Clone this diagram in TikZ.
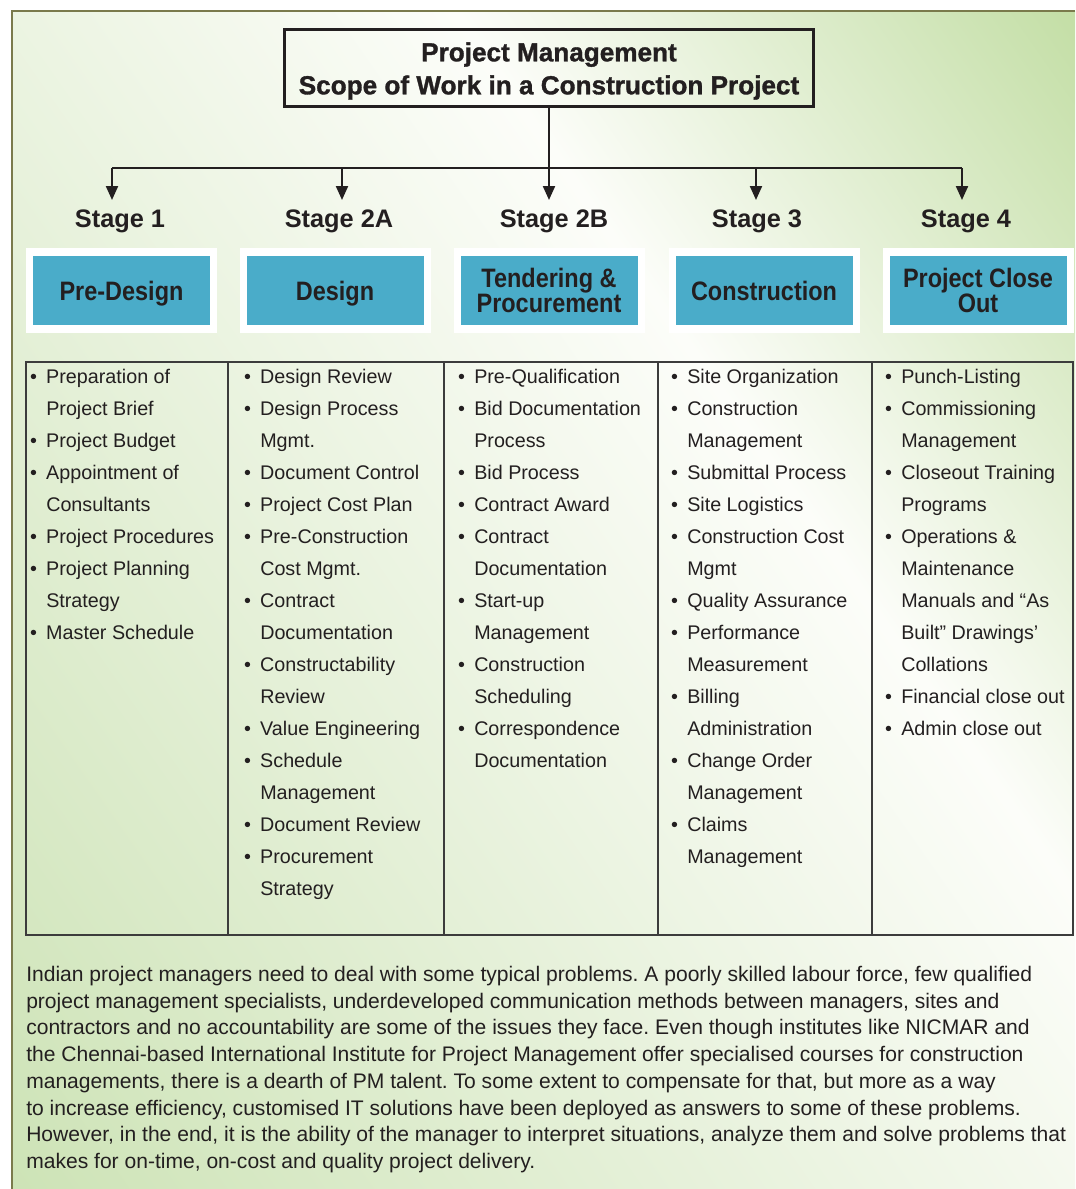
\documentclass[tikz,border=0pt]{standalone}
\usepackage{fontspec}
\setmainfont{Liberation Sans}
\newfontfamily\heavyfont{Liberation Sans}[FakeBold=1.2]
\newfontfamily\boxfont{Liberation Sans}[FakeStretch=0.88]
\usetikzlibrary{arrows.meta}

\definecolor{ink}{HTML}{231F20}
\definecolor{olive}{HTML}{7A7A4C}
\definecolor{stageblue}{RGB}{74,172,201}
\definecolor{rulegray}{HTML}{3C3C3C}
\definecolor{leafA}{RGB}{205,227,182}
\definecolor{leafB}{RGB}{195,222,165}
\definecolor{paper}{RGB}{252,253,249}

% diagonal wash behind everything
\pgfdeclarehorizontalshading{leafwash}{100bp}{color(0bp)=(leafA); color(15bp)=(leafA);
  color(62bp)=(paper); color(85bp)=(leafB); color(100bp)=(leafB)}

\newcommand\bul{\llap{\textbullet\hspace{7pt}}}

\tikzset{
    every node/.style={text=ink, inner sep=0pt},
    heading/.style={draw=ink, line width=2.2pt, minimum width=396.75pt,
        minimum height=57.75pt, align=center,
        font=\heavyfont\bfseries\fontsize{19.6}{24.75}\selectfont},
    stagename/.style={anchor=base, font=\bfseries\fontsize{19}{23}\selectfont},
    mount/.style={fill=white, minimum width=143.25pt, minimum height=63.75pt},
    stagebox/.style={fill=stageblue, minimum width=132.75pt, minimum height=51.75pt,
        align=center, font=\boxfont\bfseries\fontsize{20}{18.75}\selectfont},
    oneline/.style={stagebox, text depth=0pt},
    listline/.style={anchor=base west, font=\fontsize{14.8}{18}\selectfont},
    para/.style={anchor=base west, font=\frenchspacing\fontsize{15.8}{20}\selectfont},
    link/.style={draw=ink, line width=1.6pt},
    arr/.style={link, -{Triangle[width=9pt,length=10.5pt]}},
    tablerule/.style={draw=rulegray, line width=1.1pt}
}

\begin{document}
\begin{tikzpicture}[x=0.75pt, y=-0.75pt]
	\useasboundingbox (0,0) rectangle (1075,1189);
	\shade[shading=leafwash, shading angle=35] (12,11) rectangle (1075,1189);
	\draw[olive, line width=2.2pt] (12,1189) -- (12,11) -- (1075,11);

	% title and the branching arrows
	\node[heading] (title) at (549,68)
		{\rule{0pt}{18.8pt}Project Management\\Scope of Work in a Construction Project};
	\coordinate (bar1) at (112,168);
	\coordinate (bar2) at (342,168);
	\coordinate (bar3) at (549,168);
	\coordinate (bar4) at (756,168);
	\coordinate (bar5) at (962,168);
	\draw[link] (title.south) -- (bar3);
	\draw[link] (bar1) -- (bar5);
	\foreach \i in {1,...,5}
		\draw[arr] (bar\i) -- ++(0,32);

	% stages
	\node[stagename] (s1) at (120,227) {Stage 1};
	\node[stagename] (s2) at (339,227) {Stage 2A};
	\node[stagename] (s3) at (554,227) {Stage 2B};
	\node[stagename] (s4) at (757,227) {Stage 3};
	\node[stagename] (s5) at (966,227) {Stage 4};

	\node[mount] (m1) at (121.5,290.5) {};
	\node[mount] (m2) at (335,290.5) {};
	\node[mount] (m3) at (549,290.5) {};
	\node[mount] (m4) at (764,290.5) {};
	\node[mount] (m5) at (978,290.5) {};
	\node[oneline] (b1) at (m1) {Pre-Design};
	\node[oneline] (b2) at (m2) {Design};
	\node[stagebox] (b3) at (m3) {Tendering \&\\Procurement};
	\node[oneline] (b4) at (m4) {Construction};
	\node[stagebox] (b5) at (m5) {Project Close\\Out};

	% table of tasks
	\draw[tablerule] (26,362) rectangle (1073,935);
	\foreach \x in {228,444,658,872}
		\draw[tablerule] (\x,362) -- (\x,935);

	\foreach \entry [count=\i from 0] in {{\bul Preparation of},{Project Brief},
		{\bul Project Budget},{\bul Appointment of},{Consultants},{\bul Project Procedures},
		{\bul Project Planning},{Strategy},{\bul Master Schedule}}
		\node[listline] (c1-\i) at (46,{383+32.06*\i}) {\entry};
	\foreach \entry [count=\i from 0] in {{\bul Design Review},{\bul Design Process},{Mgmt.},
		{\bul Document Control},{\bul Project Cost Plan},{\bul Pre-Construction},{Cost Mgmt.},
		{\bul Contract},{Documentation},{\bul Constructability},{Review},{\bul Value Engineering},
		{\bul Schedule},{Management},{\bul Document Review},{\bul Procurement},{Strategy}}
		\node[listline] (c2-\i) at (260,{383+32.06*\i}) {\entry};
	\foreach \entry [count=\i from 0] in {{\bul Pre-Qualification},{\bul Bid Documentation},
		{Process},{\bul Bid Process},{\bul Contract Award},{\bul Contract},{Documentation},
		{\bul Start-up},{Management},{\bul Construction},{Scheduling},{\bul Correspondence},
		{Documentation}}
		\node[listline] (c3-\i) at (474,{383+32.06*\i}) {\entry};
	\foreach \entry [count=\i from 0] in {{\bul Site Organization},{\bul Construction},
		{Management},{\bul Submittal Process},{\bul Site Logistics},{\bul Construction Cost},
		{Mgmt},{\bul Quality Assurance},{\bul Performance},{Measurement},{\bul Billing},
		{Administration},{\bul Change Order},{Management},{\bul Claims},{Management}}
		\node[listline] (c4-\i) at (687,{383+32.06*\i}) {\entry};
	\foreach \entry [count=\i from 0] in {{\bul Punch-Listing},{\bul Commissioning},
		{Management},{\bul Closeout Training},{Programs},{\bul Operations \&},{Maintenance},
		{Manuals and “As},{Built” Drawings’},{Collations},{\bul Financial close out},
		{\bul Admin close out}}
		\node[listline] (c5-\i) at (901,{383+32.06*\i}) {\entry};

	% closing paragraph
	\foreach \row [count=\i from 0] in {
		{Indian project managers need to deal with some typical problems. A poorly skilled labour force, few qualified},
		{project management specialists, underdeveloped communication methods between managers, sites and},
		{contractors and no accountability are some of the issues they face. Even though institutes like NICMAR and},
		{the Chennai-based International Institute for Project Management offer specialised courses for construction},
		{managements, there is a dearth of PM talent. To some extent to compensate for that, but more as a way},
		{to increase efficiency, customised IT solutions have been deployed as answers to some of these problems.},
		{However, in the end, it is the ability of the manager to interpret situations, analyze them and solve problems that},
		{makes for on-time, on-cost and quality project delivery.}}
		\node[para] (p\i) at (26,{981.5+26.7*\i}) {\row};
\end{tikzpicture}
\end{document}
